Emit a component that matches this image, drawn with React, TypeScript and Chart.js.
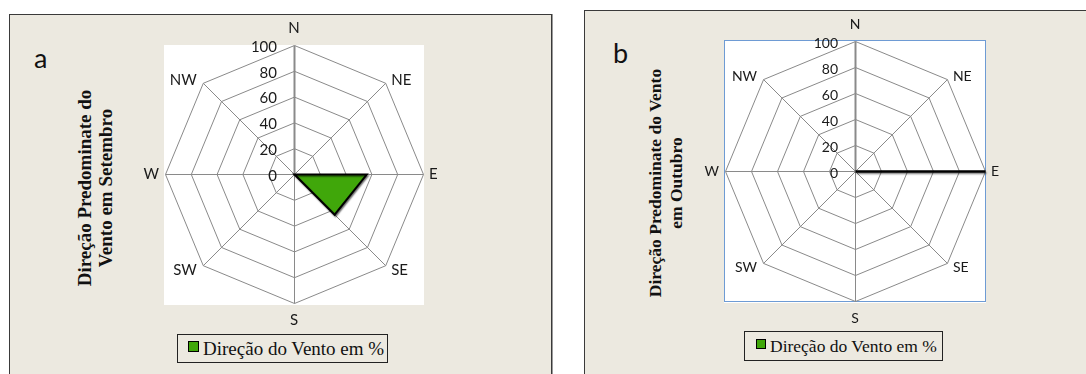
import React, { useEffect, useRef } from 'react';
import { Chart, registerables } from 'chart.js';

Chart.register(...registerables);

// Wind directions (clockwise from north) and the share of each, in %
const DIRECTIONS = ['N', 'NE', 'E', 'SE', 'S', 'SW', 'W', 'NW'];
const SETEMBRO_PCT = [0, 0, 56, 44, 0, 0, 0, 0];
const OUTUBRO_PCT = [0, 0, 100, 0, 0, 0, 0, 0];
const SERIES_LABEL = 'Direção do Vento em %';

// Radial value axis
const SCALE_MIN = 0;
const SCALE_MAX = 100;
const SCALE_STEP = 20;

const PANEL_BG = '#ECE9E0';
const GRID = '#8a8a8a';
const SERIES_FILL = '#40A70A';
const SANS = 'Lato, "Open Sans", sans-serif';
const SERIF = '"Liberation Serif", "Times New Roman", serif';

type Box = { left: number; top: number; width: number; height: number };

type PanelSpec = {
  key: string;
  letter: string;
  titleLines: string[];
  values: number[];
  lineWidth: number;
  frame: Box;
  canvas: Box;
  padding: { left: number; top: number; right: number; bottom: number };
  plotFrame: string | null;
  labelSize: number;
  tickSize: number;
  title: { cx: number; cy: number; size: number; lineHeight: number };
  letterPos: { left: number; top: number; size: number };
  legend: Box & { marker: number; markerLeft: number; textSize: number };
};

const PANELS: PanelSpec[] = [
  {
    key: 'set',
    letter: 'a',
    titleLines: ['Direção Predominate do', 'Vento em Setembro'],
    values: SETEMBRO_PCT,
    lineWidth: 2,
    frame: { left: 9, top: 14, width: 543, height: 400 },
    canvas: { left: 9, top: 14, width: 542, height: 360 },
    padding: { left: 156, top: 31, right: 128, bottom: 71 },
    plotFrame: null,
    labelSize: 15,
    tickSize: 15,
    title: { cx: 95, cy: 187.5, size: 19, lineHeight: 20.5 },
    letterPos: { left: 34, top: 42, size: 27 },
    legend: { left: 177, top: 334, width: 211, height: 29, marker: 11, markerLeft: 10, textSize: 19 },
  },
  {
    key: 'out',
    letter: 'b',
    titleLines: ['Direção Predominate do Vento', 'em Outubro'],
    values: OUTUBRO_PCT,
    lineWidth: 2.5,
    frame: { left: 584, top: 10, width: 600, height: 400 },
    canvas: { left: 584, top: 10, width: 502, height: 364 },
    padding: { left: 141, top: 31, right: 101, bottom: 73 },
    plotFrame: '#6E9BD4',
    labelSize: 14,
    tickSize: 14,
    title: { cx: 665.5, cy: 182.5, size: 17.5, lineHeight: 21 },
    letterPos: { left: 613, top: 37, size: 27 },
    legend: { left: 744, top: 331, width: 199, height: 30, marker: 10, markerLeft: 11, textSize: 17.5 },
  },
];

// White plot square, soft shadow under the series, value and direction labels
const radarDecor = {
  id: 'radarDecor',
  beforeDraw(chart: any, _args: any, opts: any) {
    const s = chart.scales.r;
    const ctx: CanvasRenderingContext2D = chart.ctx;
    const R = s.drawingArea;
    const x = s.xCenter;
    const y = s.yCenter;
    ctx.save();
    ctx.fillStyle = '#ffffff';
    ctx.fillRect(x - R - 1, y - R, 2 * R + 2, 2 * R + 2);
    if (opts.plotFrame) {
      ctx.strokeStyle = opts.plotFrame;
      ctx.lineWidth = 1;
      ctx.strokeRect(x - R - 0.5, y - R - 0.5, 2 * R + 1, 2 * R + 1);
    }
    ctx.restore();
    // crisp 1px grid lines
    ctx.save();
    ctx.translate(0.5, 0.5);
  },
  beforeDatasetsDraw(chart: any) {
    const ctx: CanvasRenderingContext2D = chart.ctx;
    ctx.save();
    ctx.shadowColor = 'rgba(0,0,0,0.45)';
    ctx.shadowOffsetX = 1;
    ctx.shadowOffsetY = 1.5;
    ctx.shadowBlur = 1.5;
  },
  afterDatasetsDraw(chart: any) {
    chart.ctx.restore();
  },
  afterDraw(chart: any, _args: any, opts: any) {
    const ctx: CanvasRenderingContext2D = chart.ctx;
    ctx.restore();
    const s = chart.scales.r;
    const R = s.drawingArea;
    const x = s.xCenter;
    const y = s.yCenter;
    ctx.save();
    ctx.fillStyle = '#1a1a1a';

    ctx.font = `${opts.tickSize}px ${SANS}`;
    ctx.textAlign = 'right';
    ctx.textBaseline = 'middle';
    s.ticks.forEach((t: any) => {
      const d = s.getDistanceFromCenterForValue(t.value);
      ctx.fillText(String(t.label ?? t.value), x - 17, y - d + 2);
    });

    ctx.font = `${opts.labelSize}px ${SANS}`;
    (chart.data.labels as string[]).forEach((lab, i) => {
      const p = s.getPointPosition(i, R);
      const dx = (p.x - x) / R;
      const dy = (p.y - y) / R;
      let tx = p.x;
      let ty = p.y;
      if (Math.abs(dx) < 0.1) {
        ctx.textAlign = 'center';
        ty = p.y + Math.sign(dy) * 17;
      } else {
        ctx.textAlign = dx > 0 ? 'left' : 'right';
        tx = p.x + Math.sign(dx) * 6;
        ty = p.y + (dy > 0.1 ? 5 : dy < -0.1 ? -3 : 0);
      }
      ctx.fillText(lab, tx, ty);
    });
    ctx.restore();
  },
};

function RadarPanel({ spec }: { spec: PanelSpec }) {
  const ref = useRef<HTMLCanvasElement>(null);

  useEffect(() => {
    if (!ref.current) return;
    const chart = new Chart(ref.current, {
      type: 'radar',
      data: {
        labels: DIRECTIONS,
        datasets: [
          {
            label: SERIES_LABEL,
            data: spec.values,
            backgroundColor: SERIES_FILL,
            borderColor: '#000000',
            borderWidth: spec.lineWidth,
            pointRadius: 0,
            pointHoverRadius: 0,
            fill: true,
            tension: 0,
          },
        ],
      },
      options: {
        animation: false,
        responsive: false,
        maintainAspectRatio: false,
        events: [],
        layout: { padding: spec.padding },
        plugins: {
          legend: { display: false },
          tooltip: { enabled: false },
          radarDecor: { plotFrame: spec.plotFrame, labelSize: spec.labelSize, tickSize: spec.tickSize },
        } as any,
        scales: {
          r: {
            min: SCALE_MIN,
            max: SCALE_MAX,
            ticks: { display: false, stepSize: SCALE_STEP },
            pointLabels: { display: false },
            grid: { color: GRID, lineWidth: 1, circular: false },
            angleLines: {
              color: GRID,
              lineWidth: (c: any) => (c.index === 0 ? 2 : 1),
            },
          },
        },
      },
      plugins: [radarDecor as any],
    });
    return () => chart.destroy();
  }, [spec]);

  const c = spec.canvas;
  const lg = spec.legend;
  return (
    <>
      <div
        style={{
          position: 'absolute',
          left: spec.frame.left,
          top: spec.frame.top,
          width: spec.frame.width,
          height: spec.frame.height,
          boxSizing: 'border-box',
          background: PANEL_BG,
          border: '1px solid #3a3a3a',
          boxShadow: '1px 0 0 #9a9a9a',
        }}
      />
      <div
        style={{
          position: 'absolute',
          left: spec.letterPos.left,
          top: spec.letterPos.top,
          font: `${spec.letterPos.size}px ${SANS}`,
          color: '#111',
          lineHeight: 1.2,
        }}
      >
        {spec.letter}
      </div>
      <div
        style={{
          position: 'absolute',
          left: spec.title.cx,
          top: spec.title.cy,
          transform: 'translate(-50%, -50%) rotate(-90deg)',
          font: `bold ${spec.title.size}px ${SERIF}`,
          lineHeight: `${spec.title.lineHeight}px`,
          textAlign: 'center',
          whiteSpace: 'nowrap',
          color: '#111',
        }}
      >
        {spec.titleLines.map((t) => (
          <div key={t}>{t}</div>
        ))}
      </div>
      <canvas
        ref={ref}
        width={c.width}
        height={c.height}
        style={{ position: 'absolute', left: c.left, top: c.top, width: c.width, height: c.height }}
      />
      <div
        style={{
          position: 'absolute',
          left: lg.left,
          top: lg.top,
          width: lg.width,
          height: lg.height,
          boxSizing: 'border-box',
          border: '1px solid #222',
          background: PANEL_BG,
          display: 'flex',
          alignItems: 'center',
          whiteSpace: 'nowrap',
        }}
      >
        <span
          style={{
            display: 'inline-block',
            width: lg.marker,
            height: lg.marker,
            boxSizing: 'border-box',
            marginLeft: lg.markerLeft,
            marginRight: 4,
            marginTop: -4,
            background: SERIES_FILL,
            border: '1px solid #000',
          }}
        />
        <span style={{ font: `${lg.textSize}px ${SERIF}`, color: '#111' }}>{SERIES_LABEL}</span>
      </div>
    </>
  );
}

export default function App() {
  return (
    <div
      style={{
        position: 'fixed',
        left: 0,
        top: 0,
        width: 1086,
        height: 374,
        overflow: 'hidden',
        background: '#ffffff',
      }}
    >
      {PANELS.map((p) => (
        <RadarPanel key={p.key} spec={p} />
      ))}
    </div>
  );
}
